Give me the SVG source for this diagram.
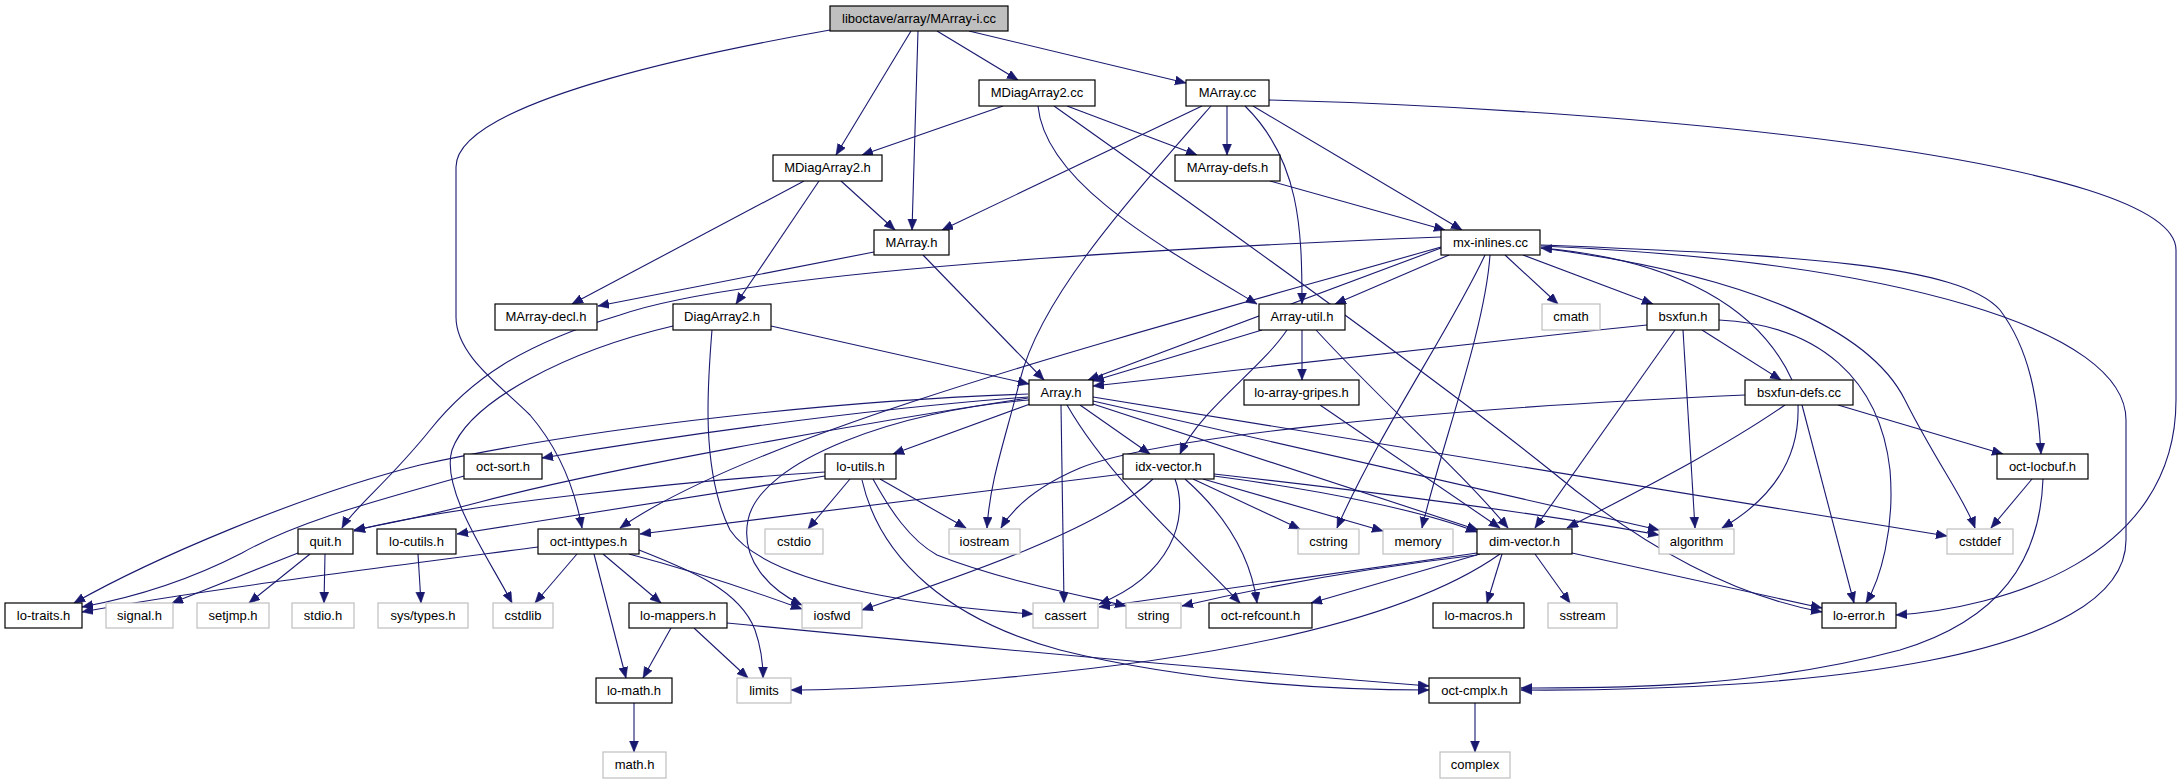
<svg xmlns="http://www.w3.org/2000/svg" width="2182" height="784" viewBox="0 0 2182 784">
<defs>
<marker id="ah" markerUnits="userSpaceOnUse" markerWidth="12" markerHeight="10" refX="11" refY="4.5" orient="auto">
<path d="M0,0 L11,4.5 L0,9 z" fill="#191970" stroke="#191970" stroke-width="0.5"/>
</marker>
<style>
.node rect{fill:#ffffff;stroke:#000000;stroke-width:1.2}
.ext rect{fill:#ffffff;stroke:#bfbfbf;stroke-width:1.2}
.root rect{fill:#bfbfbf;stroke:#000000;stroke-width:1.2}
text{font-family:"Liberation Sans",Arial,Helvetica,sans-serif;font-size:13px;fill:#000000;text-anchor:middle}
#edges path{fill:none;stroke:#191970;stroke-width:1.1;marker-end:url(#ah)}
</style>
</defs>
<rect width="2182" height="784" fill="#ffffff"/>
<g id="edges">
<path d="M911,31 L836,155"/>
<path d="M918,31 L912,230"/>
<path d="M937,31 L1018,80"/>
<path d="M969,31 L1186,83"/>
<path d="M830,30 C740,46 456,98 456,167 L456,317 C456,355 500,385 530,415 C560,450 575,490 582,528"/>
<path d="M1003,106 L862,155"/>
<path d="M1067,106 L1197,155"/>
<path d="M1038,106 C1045,180 1150,240 1257,304"/>
<path d="M1054,106 C1250,245 1450,390 1550,470 C1640,545 1730,595 1822,612"/>
<path d="M1202,106 L942,230"/>
<path d="M1211,106 C1120,210 1040,300 1020,380 C1005,440 990,480 987,528"/>
<path d="M1227,106 L1227,155"/>
<path d="M1245,106 C1300,160 1302,230 1302,304"/>
<path d="M1253,106 L1462,230"/>
<path d="M1269,100 C1650,110 2176,160 2176,250 L2176,400 C2176,560 2000,608 1896,615"/>
<path d="M1270,181 L1445,230"/>
<path d="M804,181 L572,304"/>
<path d="M841,181 L895,230"/>
<path d="M819,181 L736,304"/>
<path d="M874,252 L598,306"/>
<path d="M923,255 L1044,380"/>
<path d="M1441,237 C1000,255 720,280 620,315 C520,345 470,380 430,430 C390,480 352,510 342,528"/>
<path d="M1441,247 C1150,330 760,430 620,528"/>
<path d="M1441,248 L1088,380"/>
<path d="M1449,255 L1335,304"/>
<path d="M1485,255 C1450,330 1380,430 1337,528"/>
<path d="M1490,255 C1485,330 1440,450 1422,528"/>
<path d="M1505,255 L1558,304"/>
<path d="M1523,255 L1653,304"/>
<path d="M1541,245 C1800,255 1960,265 2000,310 C2030,350 2038,400 2041,454"/>
<path d="M1541,248 C1750,275 1870,330 1905,400 C1935,460 1965,500 1975,528"/>
<path d="M1541,246 C1900,262 2126,330 2126,420 L2126,540 C2126,660 1800,692 1521,690"/>
<path d="M771,326 L1029,384"/>
<path d="M673,326 C570,350 470,400 452,450 C440,490 490,560 512,603"/>
<path d="M712,330 C708,380 700,470 730,530 C770,590 950,608 1033,614"/>
<path d="M1262,330 L1093,381"/>
<path d="M1287,330 C1260,370 1200,410 1180,454"/>
<path d="M1302,330 L1302,380"/>
<path d="M1316,330 C1380,400 1460,470 1508,528"/>
<path d="M1093,397 L1947,536"/>
<path d="M1093,401 L1659,530"/>
<path d="M1093,404 L1478,530"/>
<path d="M1080,405 L1150,454"/>
<path d="M1061,405 L1064,603"/>
<path d="M1067,405 C1110,480 1190,550 1240,603"/>
<path d="M1028,394 C850,400 600,425 420,465 C300,495 150,560 74,603"/>
<path d="M1028,397 C850,410 650,440 542,458"/>
<path d="M1028,398 C850,425 600,470 480,502 C420,518 380,525 354,530"/>
<path d="M1029,400 C900,410 760,460 748,520 C740,560 770,590 802,605"/>
<path d="M1030,404 L893,454"/>
<path d="M1320,405 L1500,528"/>
<path d="M1647,325 C1450,345 1250,370 1093,386"/>
<path d="M1675,330 L1535,528"/>
<path d="M1683,330 L1695,528"/>
<path d="M1702,330 L1781,380"/>
<path d="M1719,320 C1820,325 1880,380 1890,470 C1895,530 1880,580 1866,603"/>
<path d="M1792,380 C1760,310 1680,260 1541,248"/>
<path d="M1745,395 C1400,410 1150,440 1080,468 C1040,485 1015,505 1001,528"/>
<path d="M1785,405 C1720,450 1640,490 1567,528"/>
<path d="M1798,405 C1800,460 1770,500 1722,528"/>
<path d="M1802,405 L1854,603"/>
<path d="M1838,405 L2003,454"/>
<path d="M464,476 C380,500 300,520 242,553 C180,585 120,600 82,607"/>
<path d="M825,472 C700,480 450,505 354,531"/>
<path d="M825,476 L457,534"/>
<path d="M850,479 L808,529"/>
<path d="M880,479 L966,528"/>
<path d="M873,479 C890,510 910,540 937,555 C1000,580 1080,595 1126,606"/>
<path d="M862,480 C880,560 950,620 1060,650 C1200,685 1350,690 1429,690"/>
<path d="M1123,474 L640,534"/>
<path d="M1153,479 C1100,530 950,580 862,610"/>
<path d="M1175,479 C1190,520 1170,575 1099,604"/>
<path d="M1185,479 C1220,510 1250,550 1257,603"/>
<path d="M1193,479 L1300,529"/>
<path d="M1203,479 L1383,531"/>
<path d="M1214,474 C1400,495 1550,515 1659,535"/>
<path d="M1214,476 C1320,490 1420,510 1477,532"/>
<path d="M2032,479 L1991,528"/>
<path d="M2043,479 C2040,560 2000,620 1900,650 C1750,690 1600,688 1521,688"/>
<path d="M298,553 L172,603"/>
<path d="M310,554 L249,603"/>
<path d="M325,554 L324,603"/>
<path d="M418,554 L421,603"/>
<path d="M538,547 C400,565 200,590 82,612"/>
<path d="M577,554 L535,603"/>
<path d="M594,554 L626,678"/>
<path d="M603,554 L661,603"/>
<path d="M629,554 C690,570 750,590 802,609"/>
<path d="M639,550 C690,570 740,590 755,630 C762,650 763,665 763,678"/>
<path d="M1477,553 L1099,607"/>
<path d="M1477,555 C1350,570 1250,590 1182,606"/>
<path d="M1480,554 L1311,603"/>
<path d="M1500,554 C1400,625 1200,660 1000,678 C900,688 820,690 791,690"/>
<path d="M1502,554 L1487,603"/>
<path d="M1535,554 L1570,603"/>
<path d="M1572,553 L1822,608"/>
<path d="M671,628 L643,678"/>
<path d="M694,628 L748,678"/>
<path d="M727,623 C900,640 1200,668 1429,686"/>
<path d="M634,703 L634,752"/>
<path d="M1475,703 L1475,752"/>
</g>
<g id="n_root" class="root"><rect x="830" y="6" width="178" height="25"/><text x="919" y="23">liboctave/array/MArray-i.cc</text></g>
<g id="n_MDiagArray2_cc" class="node"><rect x="979" y="80" width="116" height="26"/><text x="1037" y="97">MDiagArray2.cc</text></g>
<g id="n_MArray_cc" class="node"><rect x="1186" y="80" width="83" height="26"/><text x="1227.5" y="97">MArray.cc</text></g>
<g id="n_MDiagArray2_h" class="node"><rect x="773" y="155" width="109" height="26"/><text x="827.5" y="172">MDiagArray2.h</text></g>
<g id="n_MArray_defs_h" class="node"><rect x="1175" y="155" width="105" height="26"/><text x="1227.5" y="172">MArray-defs.h</text></g>
<g id="n_MArray_h" class="node"><rect x="874" y="230" width="75" height="25"/><text x="911.5" y="247">MArray.h</text></g>
<g id="n_mx_inlines_cc" class="node"><rect x="1441" y="230" width="99" height="25"/><text x="1490.5" y="247">mx-inlines.cc</text></g>
<g id="n_MArray_decl_h" class="node"><rect x="495" y="304" width="102" height="26"/><text x="546" y="321">MArray-decl.h</text></g>
<g id="n_DiagArray2_h" class="node"><rect x="673" y="304" width="98" height="26"/><text x="722" y="321">DiagArray2.h</text></g>
<g id="n_Array_util_h" class="node"><rect x="1259" y="304" width="86" height="26"/><text x="1302" y="321">Array-util.h</text></g>
<g id="n_cmath" class="ext"><rect x="1542" y="304" width="58" height="26"/><text x="1571" y="321">cmath</text></g>
<g id="n_bsxfun_h" class="node"><rect x="1647" y="304" width="72" height="26"/><text x="1683" y="321">bsxfun.h</text></g>
<g id="n_Array_h" class="node"><rect x="1029" y="380" width="64" height="25"/><text x="1061" y="397">Array.h</text></g>
<g id="n_lo_array_gripes_h" class="node"><rect x="1244" y="380" width="115" height="25"/><text x="1301.5" y="397">lo-array-gripes.h</text></g>
<g id="n_bsxfun_defs_cc" class="node"><rect x="1745" y="380" width="108" height="25"/><text x="1799" y="397">bsxfun-defs.cc</text></g>
<g id="n_oct_sort_h" class="node"><rect x="464" y="454" width="78" height="25"/><text x="503" y="471">oct-sort.h</text></g>
<g id="n_lo_utils_h" class="node"><rect x="825" y="454" width="71" height="25"/><text x="860.5" y="471">lo-utils.h</text></g>
<g id="n_idx_vector_h" class="node"><rect x="1123" y="454" width="91" height="25"/><text x="1168.5" y="471">idx-vector.h</text></g>
<g id="n_oct_locbuf_h" class="node"><rect x="1997" y="454" width="91" height="25"/><text x="2042.5" y="471">oct-locbuf.h</text></g>
<g id="n_quit_h" class="node"><rect x="298" y="529" width="55" height="25"/><text x="325.5" y="546">quit.h</text></g>
<g id="n_lo_cutils_h" class="node"><rect x="377" y="529" width="79" height="25"/><text x="416.5" y="546">lo-cutils.h</text></g>
<g id="n_oct_inttypes_h" class="node"><rect x="538" y="529" width="101" height="25"/><text x="588.5" y="546">oct-inttypes.h</text></g>
<g id="n_cstdio" class="ext"><rect x="765" y="529" width="58" height="25"/><text x="794" y="546">cstdio</text></g>
<g id="n_iostream" class="ext"><rect x="949" y="529" width="71" height="25"/><text x="984.5" y="546">iostream</text></g>
<g id="n_cstring" class="ext"><rect x="1298" y="529" width="61" height="25"/><text x="1328.5" y="546">cstring</text></g>
<g id="n_memory" class="ext"><rect x="1383" y="529" width="70" height="25"/><text x="1418" y="546">memory</text></g>
<g id="n_dim_vector_h" class="node"><rect x="1477" y="529" width="95" height="25"/><text x="1524.5" y="546">dim-vector.h</text></g>
<g id="n_algorithm" class="ext"><rect x="1659" y="529" width="75" height="25"/><text x="1696.5" y="546">algorithm</text></g>
<g id="n_cstddef" class="ext"><rect x="1947" y="529" width="66" height="25"/><text x="1980" y="546">cstddef</text></g>
<g id="n_lo_traits_h" class="node"><rect x="5" y="603" width="77" height="25"/><text x="43.5" y="620">lo-traits.h</text></g>
<g id="n_signal_h" class="ext"><rect x="106" y="603" width="67" height="25"/><text x="139.5" y="620">signal.h</text></g>
<g id="n_setjmp_h" class="ext"><rect x="197" y="603" width="72" height="25"/><text x="233" y="620">setjmp.h</text></g>
<g id="n_stdio_h" class="ext"><rect x="292" y="603" width="62" height="25"/><text x="323" y="620">stdio.h</text></g>
<g id="n_sys_types_h" class="ext"><rect x="378" y="603" width="90" height="25"/><text x="423" y="620">sys/types.h</text></g>
<g id="n_cstdlib" class="ext"><rect x="493" y="603" width="60" height="25"/><text x="523" y="620">cstdlib</text></g>
<g id="n_lo_mappers_h" class="node"><rect x="629" y="603" width="98" height="25"/><text x="678" y="620">lo-mappers.h</text></g>
<g id="n_iosfwd" class="ext"><rect x="802" y="603" width="60" height="25"/><text x="832" y="620">iosfwd</text></g>
<g id="n_cassert" class="ext"><rect x="1033" y="603" width="65" height="25"/><text x="1065.5" y="620">cassert</text></g>
<g id="n_string" class="ext"><rect x="1126" y="603" width="55" height="25"/><text x="1153.5" y="620">string</text></g>
<g id="n_oct_refcount_h" class="node"><rect x="1209" y="603" width="103" height="25"/><text x="1260.5" y="620">oct-refcount.h</text></g>
<g id="n_lo_macros_h" class="node"><rect x="1433" y="603" width="91" height="25"/><text x="1478.5" y="620">lo-macros.h</text></g>
<g id="n_sstream" class="ext"><rect x="1548" y="603" width="69" height="25"/><text x="1582.5" y="620">sstream</text></g>
<g id="n_lo_error_h" class="node"><rect x="1822" y="603" width="74" height="25"/><text x="1859" y="620">lo-error.h</text></g>
<g id="n_lo_math_h" class="node"><rect x="596" y="678" width="76" height="25"/><text x="634" y="695">lo-math.h</text></g>
<g id="n_limits" class="ext"><rect x="737" y="678" width="54" height="25"/><text x="764" y="695">limits</text></g>
<g id="n_oct_cmplx_h" class="node"><rect x="1429" y="678" width="91" height="25"/><text x="1474.5" y="695">oct-cmplx.h</text></g>
<g id="n_math_h" class="ext"><rect x="603" y="752" width="63" height="26"/><text x="634.5" y="769">math.h</text></g>
<g id="n_complex" class="ext"><rect x="1440" y="752" width="70" height="26"/><text x="1475" y="769">complex</text></g>
</svg>
